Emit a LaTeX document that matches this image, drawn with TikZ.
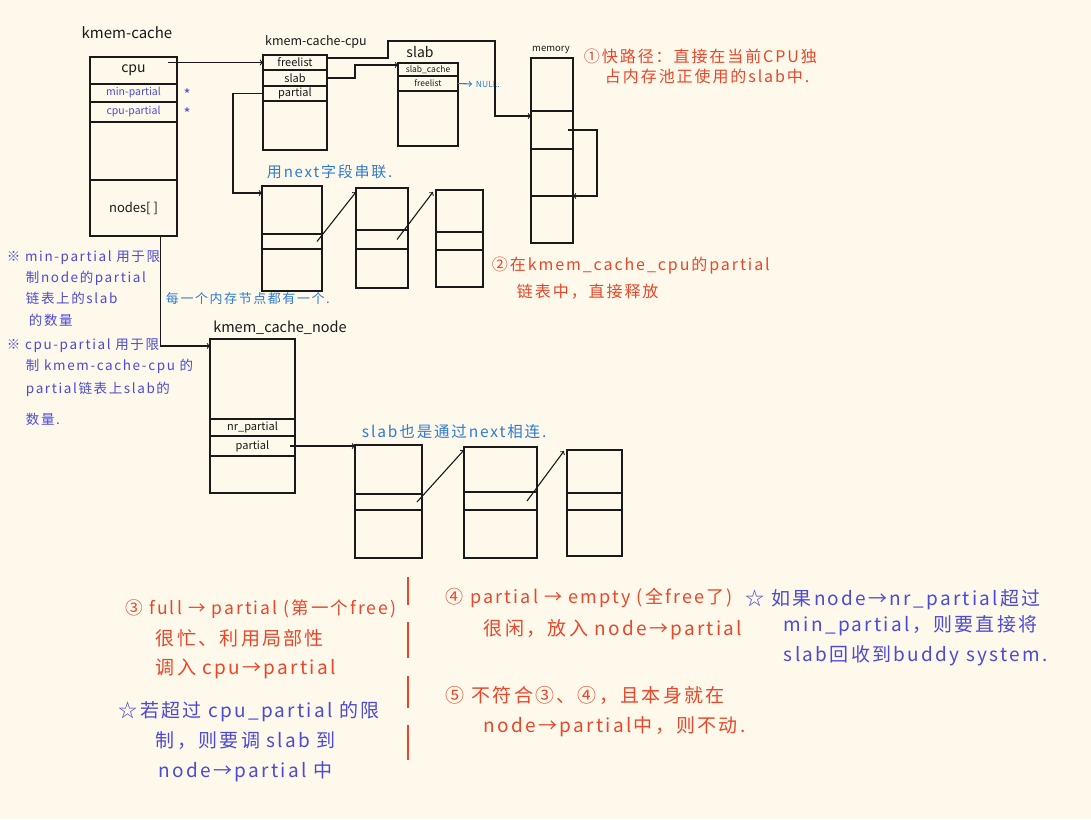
\documentclass[tikz,border=0pt]{standalone}
\usepackage{fontspec}
\usepackage{tikz}
\newfontfamily\cjk{Noto Sans CJK SC}
\newfontfamily\cjkwide[LetterSpace=12]{Noto Sans CJK SC}
\definecolor{paper}{HTML}{FEF9EB}
\definecolor{ink}{HTML}{1A1A1A}
\definecolor{redpen}{HTML}{E8472B}
\definecolor{violetpen}{HTML}{4B4BD6}
\definecolor{bluepen}{HTML}{2F7BD6}

\begin{document}
\begin{tikzpicture}[x=1pt, y=-1pt, font=\cjk, line width=1.3pt, color=ink,
  cell/.style 2 args={draw, inner sep=0pt, outer sep=0pt, minimum width=#1, minimum height=#2, font=\cjk\fontsize{11}{12}\selectfont},
  title/.style={font=\cjk\fontsize{15}{17}\selectfont},
  small/.style={font=\cjk\fontsize{8.5}{9}\selectfont},
  arr/.style={->, line width=1.1pt},
  rednote/.style={anchor=west, text=redpen, font=\cjkwide\fontsize{19}{21}\selectfont},
  violetnote/.style={anchor=west, text=violetpen, font=\cjkwide\fontsize{19}{21}\selectfont},
  toprednote/.style={anchor=west, text=redpen, font=\cjkwide\fontsize{16}{18}\selectfont},
  leftnote/.style={anchor=west, text=violetpen, font=\cjkwide\fontsize{13.5}{15}\selectfont},
  bluenote/.style={anchor=west, text=bluepen, font=\cjkwide\fontsize{13}{15}\selectfont}]

\useasboundingbox[fill=paper] (0,0) rectangle (1091,819);

% kmem_cache
\node[title] (kctitle) at (127,33) {kmem-cache};
\node[cell={87}{179}] (kc) at (133.5,146.5) {};
\node[cell={87}{27}, font=\cjk\fontsize{14}{15}\selectfont] (cpu) at (133.5,70.5) {cpu};
\node[cell={87}{18}, font=\cjk\fontsize{10.5}{11}\selectfont, text=violetpen] (minp) at (133.5,93) {min-partial};
\node[cell={87}{20}, font=\cjk\fontsize{10.5}{11}\selectfont, text=violetpen] (cpup) at (133.5,112) {cpu-partial};
\node[cell={87}{56}, font=\cjk\fontsize{13}{14}\selectfont] (nodes) at (133.5,208) {nodes[ ]};
\node[text=violetpen, font=\cjk\fontsize{15}{15}\selectfont] (st1) at (187,95) {*};
\node[text=violetpen, font=\cjk\fontsize{15}{15}\selectfont] (st2) at (187,114) {*};

% kmem_cache_cpu
\node[title, font=\cjk\fontsize{12.5}{14}\selectfont] (kcctitle) at (316,42) {kmem-cache-cpu};
\node[cell={64}{95}] (kcc) at (295,102.5) {};
\node[cell={64}{15}] (kccfl) at (295,62.5) {freelist};
\node[cell={64}{16}] (kccsl) at (295,78) {slab};
\node[cell={64}{15}] (kccpa) at (295,93.5) {partial};

% slab
\node[title, font=\cjk\fontsize{14}{15}\selectfont] (sbtitle) at (420,52) {slab};
\node[cell={60}{83}] (sb) at (428,104.5) {};
\node[cell={60}{13}, small] (sbsc) at (428,69.5) {slab\_cache};
\node[cell={60}{15}, small] (sbfl) at (428,83.5) {freelist};
\node[anchor=west, text=bluepen, small] (nul) at (472,84) {NULL.};

% memory
\node[small, font=\cjk\fontsize{9.5}{10}\selectfont] (memtitle) at (551,50) {memory};
\node[cell={42}{53}] (m1) at (552,84.5) {};
\node[cell={42}{38}] (m2) at (552,130) {};
\node[cell={42}{47}] (m3) at (552,172.5) {};
\node[cell={42}{47}] (m4) at (552,219.5) {};

% cpu partial list
\node[cell={60}{48}] (la1) at (292,210) {};
\node[cell={60}{15}] (la2) at (292,241.5) {};
\node[cell={60}{42}] (la3) at (292,270) {};
\node[cell={52}{42}] (lb1) at (382,209) {};
\node[cell={52}{19}] (lb2) at (382,239.5) {};
\node[cell={52}{39}] (lb3) at (382,268.5) {};
\node[cell={47}{42}] (lc1) at (459.5,211) {};
\node[cell={47}{18}] (lc2) at (459.5,241) {};
\node[cell={47}{37}] (lc3) at (459.5,268.5) {};

% kmem_cache_node
\node[title, font=\cjk\fontsize{14.5}{16}\selectfont] (kcntitle) at (280,328) {kmem\_cache\_node};
\node[cell={85}{80}] (kcn1) at (252.5,379) {};
\node[cell={85}{17}] (kcnnr) at (252.5,427.5) {nr\_partial};
\node[cell={85}{20}] (kcnpa) at (252.5,446) {partial};
\node[cell={85}{37}] (kcn4) at (252.5,474.5) {};

% node partial list
\node[cell={67}{49}] (ld1) at (388.5,469.5) {};
\node[cell={67}{16}] (ld2) at (388.5,502) {};
\node[cell={67}{48}] (ld3) at (388.5,534) {};
\node[cell={73}{45}] (le1) at (500.5,469.5) {};
\node[cell={73}{18}] (le2) at (500.5,501) {};
\node[cell={73}{48}] (le3) at (500.5,534) {};
\node[cell={55}{43}] (lf1) at (594.5,471.5) {};
\node[cell={55}{17}] (lf2) at (594.5,501.5) {};
\node[cell={55}{46}] (lf3) at (594.5,533) {};

% arrows
\draw[arr] ([xshift=-9pt]cpu.east |- kccfl.west) -- (kccfl.west);
\draw[arr] ([yshift=4.5pt]kccfl.east) -- ++(61,0) |- (495,41) |- ([yshift=-5pt]m2.north west);
\draw[arr] (kccsl.east) -- ++(28,0) |- ([yshift=-2pt]sbsc.north west);
\draw[arr] (kccpa.west) -- ++(-30,0) |- ([yshift=-7pt]la1.north west);
\draw[arr, bluepen] (sbfl.east) -- (nul.west);
\draw[arr] ([xshift=-5pt]m2.east) -- ++(29,0) |- (m4.north east);
\draw[arr] ([xshift=-5pt]la2.east) -- ([yshift=-4pt]lb1.north west);
\draw[arr] ([xshift=-11pt]lb2.east) -- ([xshift=-3pt,yshift=-2pt]lc1.north west);
\draw[arr] ([xshift=27pt]nodes.south) |- ([yshift=-7pt]kcn1.north west);
\draw[arr] ([xshift=-5pt]kcnpa.east) -- (ld1.west |- kcnpa);
\draw[arr] ([xshift=-5pt]ld2.east) -- ([yshift=-3pt]le1.north west);
\draw[arr] ([xshift=-10pt]le2.east) -- ([xshift=-3pt,yshift=-1pt]lf1.north west);

% notes
\node[toprednote] (n1a) at (580,56) {①快路径：直接在当前CPU独};
\node[toprednote] (n1b) at (601,76) {占内存池正使用的slab中.};
\node[toprednote] (n2a) at (488,266) {②在kmem\_cache\_cpu的partial};
\node[toprednote] (n2b) at (513,292) {链表中，直接释放};

\node[bluenote, font=\cjkwide\fontsize{15}{17}\selectfont] (b1) at (263,172) {用next字段串联.};
\node[bluenote] (b2) at (162,299) {每一个内存节点都有一个.};
\node[bluenote, font=\cjkwide\fontsize{15.5}{17}\selectfont] (b3) at (358,432) {slab也是通过next相连.};

\node[leftnote] (l1a) at (3,258) {※ min-partial 用于限};
\node[leftnote] (l1b) at (22,278) {制node的partial};
\node[leftnote] (l1c) at (22,298) {链表上的slab};
\node[leftnote] (l1d) at (25,320) {的数量};
\node[leftnote] (l2a) at (3,346) {※ cpu-partial 用于限};
\node[leftnote] (l2b) at (22,366) {制 kmem-cache-cpu 的};
\node[leftnote] (l2c) at (22,389) {partial链表上slab的};
\node[leftnote] (l2d) at (22,419) {数量.};

\node[rednote, font=\cjkwide\fontsize{17.5}{20}\selectfont] (n3a) at (122,609) {③ full → partial (第一个free)};
\node[rednote] (n3b) at (152,638) {很忙、利用局部性};
\node[rednote] (n3c) at (152,669) {调入 cpu→partial};
\node[violetnote] (n3d) at (115,712) {☆若超过 cpu\_partial 的限};
\node[violetnote] (n3e) at (152,741) {制，则要调 slab 到};
\node[violetnote] (n3f) at (155,772) {node→partial 中};

\node[rednote, font=\cjkwide\fontsize{18}{20}\selectfont] (n4a) at (442,598) {④ partial → empty (全free了)};
\node[rednote] (n4b) at (480,630) {很闲，放入 node→partial};
\node[rednote] (n5a) at (442,695) {⑤ 不符合③、④，且本身就在};
\node[rednote] (n5b) at (480,727) {node→partial中，则不动.};

\node[violetnote] (n6a) at (742,600) {☆ 如果node→nr\_partial超过};
\node[violetnote] (n6b) at (780,626) {min\_partial，则要直接将};
\node[violetnote] (n6c) at (780,656) {slab回收到buddy system.};

% separator
\foreach \a/\b in {577/605, 622/658, 676/708, 725/760}
  \draw[redpen] (408,\a) -- (408,\b);

\end{tikzpicture}
\end{document}
